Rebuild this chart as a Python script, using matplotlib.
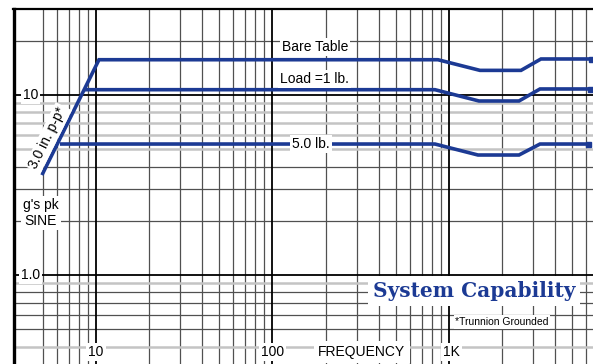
import matplotlib
matplotlib.use("Agg")
import matplotlib.pyplot as plt
import numpy as np

# ---- data ----
bare_f = [4.94, 10.4, 866, 1498, 2559, 3320, 6375]
bare_g = [3.59, 15.7, 15.7, 13.7, 13.7, 15.85, 15.85]

load1_f = [8.66, 833, 1479, 2493, 3279, 6295]
load1_g = [10.7, 10.7, 9.26, 9.26, 10.8, 10.8]

load5_f = [6.25, 833, 1460, 2493, 3279, 6131]
load5_g = [5.34, 5.34, 4.64, 4.64, 5.34, 5.34]

# grid values
x_major = [10, 100, 1000]
x_minor = [5, 6, 7, 8, 9, 20, 30, 40, 50, 60, 70, 80, 90,
           200, 300, 400, 500, 600, 700, 800, 900,
           2000, 3000, 4000, 5000, 6000]
y_major = [1, 10]
y_dark = [20, 2, 3, 4, 0.5, 0.6, 0.7, 0.8]
y_light = [5, 6, 7, 8, 9, 0.4, 0.9]

x_tick_labels = [(10, "10"), (100, "100"), (1000, "1K")]
y_tick_labels = [(10, "10"), (1, "1.0")]

BLUE = "#1c3a94"
plt.rcParams['font.family'] = ['Liberation Sans', 'DejaVu Sans']

fig = plt.figure(figsize=(5.93, 3.64), dpi=100)
W, H = 593, 364
left_px, top_px = 13.5, 9.1
xlim = (3.41, 7000)
ylim = (0.3, 30)
px_dec_x, px_dec_y = 176.5, 180
wpx = (np.log10(xlim[1]) - np.log10(xlim[0])) * px_dec_x
hpx = (np.log10(ylim[1]) - np.log10(ylim[0])) * px_dec_y
ax = fig.add_axes([left_px / W, 1 - (top_px + hpx) / H, wpx / W, hpx / H])
ax.set_xscale('log')
ax.set_yscale('log')
ax.set_xlim(*xlim)
ax.set_ylim(*ylim)
ax.set_xticks([])
ax.set_yticks([])
ax.minorticks_off()
ax.tick_params(which='both', length=0, labelleft=False, labelbottom=False)

for v in x_minor:
    ax.axvline(v, color='#505050', lw=0.9, zorder=1)
for v in x_major:
    ax.axvline(v, color='black', lw=1.3, zorder=1.2)
for v in y_dark:
    ax.axhline(v, color='#505050', lw=0.9, zorder=1)
for v in y_light:
    ax.axhline(v, color='#c4c4c4', lw=1.8, zorder=1)
for v in y_major:
    ax.axhline(v, color='black', lw=1.3, zorder=1.2)

for spn in ['right', 'bottom']:
    ax.spines[spn].set_visible(False)
ax.spines['left'].set_linewidth(2.4)
ax.spines['top'].set_linewidth(1.6)

for fx, gy in [(bare_f, bare_g), (load1_f, load1_g), (load5_f, load5_g)]:
    ax.plot(fx, gy, color=BLUE, lw=2.6, solid_capstyle='butt',
            solid_joinstyle='miter', zorder=3)
    ax.plot(fx[-1:], gy[-1:], marker='s', ms=3.6, color=BLUE, zorder=3)

wb = dict(boxstyle='square,pad=0.15', fc='white', ec='none')
fs = 10

# axis labels inside the plot
for v, s in y_tick_labels:
    ax.text(4.25, v, s, ha='center', va='center', fontsize=fs, bbox=wb, zorder=4)
for v, s in x_tick_labels:
    xx = v * (1.035 if s == "1K" else 1.0)
    ax.text(xx, 0.373, s, ha='center', va='center', fontsize=fs, bbox=wb, zorder=4)
ax.text(321, 0.373, "FREQUENCY", ha='center', va='center', fontsize=fs,
        bbox=dict(boxstyle='square,pad=0.3', fc='white', ec='none'), zorder=4)
ax.text(4.88, 2.21, "g's pk\nSINE", ha='center', va='center', fontsize=fs,
        linespacing=1.15, bbox=wb, zorder=4)
ax.text(5.35, 5.77, "3.0 in. p-p*", ha='center', va='center', fontsize=fs,
        rotation=63.5, rotation_mode='anchor', bbox=wb, zorder=4)

ax.text(174, 18.5, "Bare Table", ha='center', va='center', fontsize=fs, bbox=wb, zorder=4)
ax.text(174, 12.3, "Load =1 lb.", ha='center', va='center', fontsize=fs, bbox=wb, zorder=4)
ax.text(165, 5.34, "5.0 lb.", ha='center', va='center', fontsize=fs, bbox=wb, zorder=4)

ax.text(1385, 0.815, "System Capability", ha='center', va='center',
        fontsize=14.5, fontweight='bold', family='DejaVu Serif', color=BLUE,
        bbox=dict(boxstyle='square,pad=0.25', fc='white', ec='none'), zorder=4)
ax.text(1995, 0.548, "*Trunnion Grounded", ha='center', va='center',
        fontsize=7.5, bbox=wb, zorder=4)

fig.savefig("out.png", dpi=100)
